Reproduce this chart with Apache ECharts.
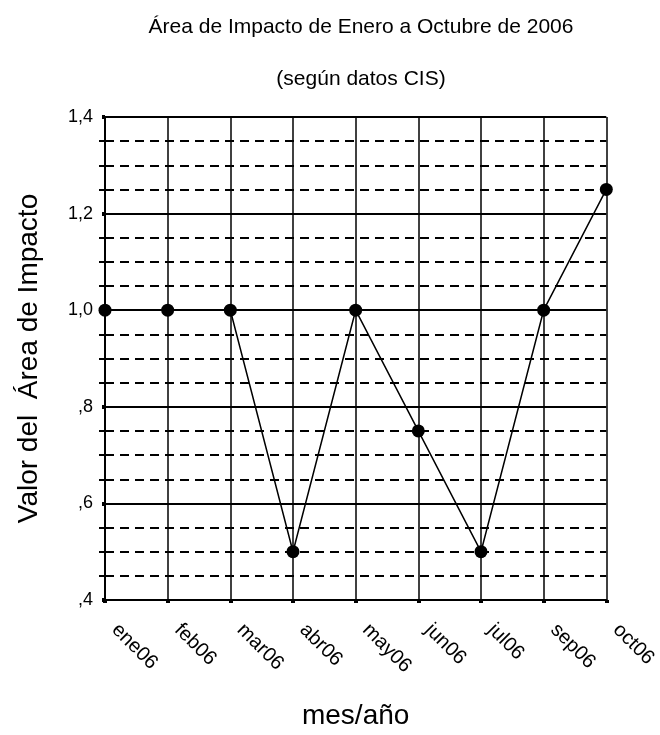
<!DOCTYPE html>
<html>
<head>
<meta charset="utf-8">
<script src="https://cdn.jsdelivr.net/npm/echarts@6/dist/echarts.min.js"></script>
<style>html,body{margin:0;padding:0;background:#fff;}#c{width:660px;height:735px;}</style>
</head>
<body>
<div id="c"></div>
<script>
const categories = ['ene06','feb06','mar06','abr06','may06','jun06','jul06','sep06','oct06'];
const values = [1.0, 1.0, 1.0, 0.5, 1.0, 0.75, 0.5, 1.0, 1.25];
const yTickLabels = {'0.4':',4','0.6':',6','0.8':',8','1':'1,0','1.2':'1,2','1.4':'1,4'};
const titleText = 'Área de Impacto de Enero a Octubre de 2006';
const subtitleText = '(según datos CIS)';
const font = 'Liberation Sans, Arial, sans-serif';

const chart = echarts.init(document.getElementById('c'), null, {renderer:'canvas'});
chart.setOption({
  animation: false,
  backgroundColor: '#fff',
  title: [
    {text: titleText, left: 356, textAlign:'center', top: 12, textStyle:{fontFamily:font, fontSize:21, fontWeight:'normal', color:'#000'}},
    {text: subtitleText, left: 356, textAlign:'center', top: 64, textStyle:{fontFamily:font, fontSize:21, fontWeight:'normal', color:'#000'}}
  ],
  grid: {left:105, right:53, top:117, bottom:130, containLabel:false},
  xAxis: {
    type:'category', data: categories, boundaryGap:false,
    name:'mes/año', nameLocation:'middle', nameGap:102,
    nameTextStyle:{fontFamily:font, fontSize:28, color:'#000'},
    axisLine:{lineStyle:{color:'#000', width:2}},
    axisTick:{show:true, alignWithLabel:true, length:3, lineStyle:{color:'#000', width:4}},
    axisLabel:{rotate:-45, fontFamily:font, fontSize:20, color:'#000', margin:17, interval:0, padding:[0,0,0,14]},
    splitLine:{show:true, lineStyle:{color:'#000', width:1.5}}
  },
  yAxis: {
    type:'value', min:0.4, max:1.4, interval:0.2,
    name:'Valor del  Área de Impacto', nameLocation:'middle', nameGap:62,
    nameTextStyle:{fontFamily:font, fontSize:28, color:'#000'},
    axisLine:{show:true, lineStyle:{color:'#000', width:2}},
    axisTick:{show:true, length:3, lineStyle:{color:'#000', width:4}},
    minorTick:{show:true, splitNumber:4, length:6, lineStyle:{color:'#000', width:2}},
    axisLabel:{fontFamily:font, fontSize:18, color:'#000', margin:12,
      formatter: v => yTickLabels[String(Math.round(v*10)/10)] || ''},
    splitLine:{show:true, lineStyle:{color:'#000', width:2}},
    minorSplitLine:{show:true, lineStyle:{color:'#000', width:2, type:[9,6]}}
  },
  series: [{
    type:'line', data: values,
    symbol:'circle', symbolSize:13,
    itemStyle:{color:'#000'},
    lineStyle:{color:'#000', width:1.5},
    z: 5
  }]
});
</script>
</body>
</html>
